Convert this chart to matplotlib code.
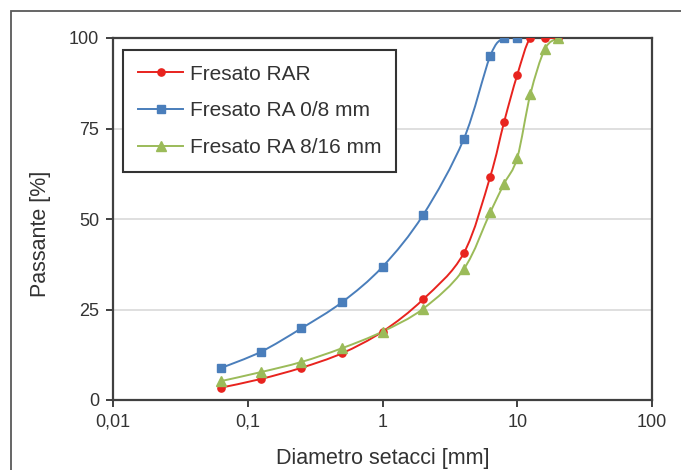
import matplotlib
matplotlib.use('Agg')
import matplotlib.pyplot as plt
import numpy as np
from matplotlib.path import Path
from matplotlib.patches import PathPatch, Rectangle
from matplotlib.lines import Line2D
from matplotlib.ticker import FixedLocator, FixedFormatter, NullLocator

plt.rcParams['font.family'] = ['Liberation Sans', 'DejaVu Sans']

# aperture setacci [mm]
setacci = [0.063, 0.125, 0.25, 0.5, 1, 2, 4, 6.3, 8, 10, 12.5, 16, 20]
# passante [%]
rar = [3.4, 5.8, 8.9, 12.9, 18.9, 27.8, 40.5, 61.7, 76.9, 89.8, 100, 100, 100]
ra_0_8 = [8.8, 13.3, 19.8, 27.0, 36.8, 51.1, 72.0, 95.0, 100, 100]
ra_8_16 = [5.2, 7.7, 10.5, 14.3, 18.9, 25.2, 36.1, 51.8, 59.8, 66.9, 84.4, 96.9, 100]

nomi = ['Fresato RAR', 'Fresato RA 0/8 mm', 'Fresato RA 8/16 mm']
xticks = [0.01, 0.1, 1, 10, 100]
xticklabels = ['0,01', '0,1', '1', '10', '100']
yticks = [0, 25, 50, 75, 100]


def smooth_path(x, y):
    # excel-style smoothed line: bezier through the points in log-x space
    P = np.column_stack([np.log10(x), np.asarray(y, float)])
    n = len(P)
    verts = [P[0]]
    codes = [Path.MOVETO]
    for i in range(n - 1):
        p0 = P[max(i - 1, 0)]
        p1 = P[i]
        p2 = P[i + 1]
        p3 = P[min(i + 2, n - 1)]
        verts += [p1 + (p2 - p0) / 6, p2 - (p3 - p1) / 6, p2]
        codes += [Path.CURVE4] * 3
    verts = np.array(verts)
    verts[:, 0] = 10 ** verts[:, 0]
    return Path(verts, codes)


fig = plt.figure(figsize=(6.81, 4.70), dpi=100)
ax = fig.add_axes([113 / 681, 70 / 470, 539 / 681, 362 / 470])

serie = [
    (setacci, rar, '#e8231e', 'o', 5.2),
    (setacci[:len(ra_0_8)], ra_0_8, '#4a7ebb', 's', 5.8),
    (setacci, ra_8_16, '#9bbb59', '^', 6.8),
]

handles = []
for (x, y, c, m, ms), nome in zip(serie, nomi):
    ax.add_patch(PathPatch(smooth_path(x, y), facecolor='none', edgecolor=c, lw=1.4, zorder=3))
    ax.plot(x, y, ls='none', marker=m, ms=ms, color=c, zorder=4)
    handles.append(Line2D([], [], color=c, lw=1.4, marker=m, ms=ms))

ax.set_xscale('log')
ax.set_xlim(0.01, 100)
ax.set_ylim(0, 100)
ax.xaxis.set_major_locator(FixedLocator(xticks))
ax.xaxis.set_major_formatter(FixedFormatter(xticklabels))
ax.xaxis.set_minor_locator(NullLocator())
ax.set_yticks(yticks)

ax.yaxis.grid(True, color='#d9d9d9', lw=1.2)
ax.set_axisbelow(True)
for s in ax.spines.values():
    s.set_color('#404040')
    s.set_linewidth(1.6)
ax.tick_params(direction='out', length=5, width=1.4, color='#404040',
               labelsize=13, labelcolor='#333333', pad=5)

ax.set_xlabel('Diametro setacci [mm]', fontsize=15.5, color='#333333', labelpad=12)
ax.set_ylabel('Passante [%]', fontsize=15.5, color='#333333', labelpad=13)
ax.yaxis.label.set_y(0.46)

leg = ax.legend(handles, nomi, loc='upper left', bbox_to_anchor=(0.0186, 0.967),
                fontsize=15, frameon=True, fancybox=False, framealpha=1,
                handlelength=2.2, handletextpad=0.3, labelspacing=0.85,
                borderpad=0.7, borderaxespad=0)
leg.get_frame().set_edgecolor('#333333')
leg.get_frame().set_linewidth(1.5)
for t in leg.get_texts():
    t.set_color('#333333')

# bordo esterno del grafico
fig.patches.append(Rectangle((11 / 681, -0.1), 2, (470 - 11) / 470 + 0.1,
                             transform=fig.transFigure, fill=False,
                             edgecolor='#595959', lw=1.3))

fig.savefig('out.png', dpi=100)
